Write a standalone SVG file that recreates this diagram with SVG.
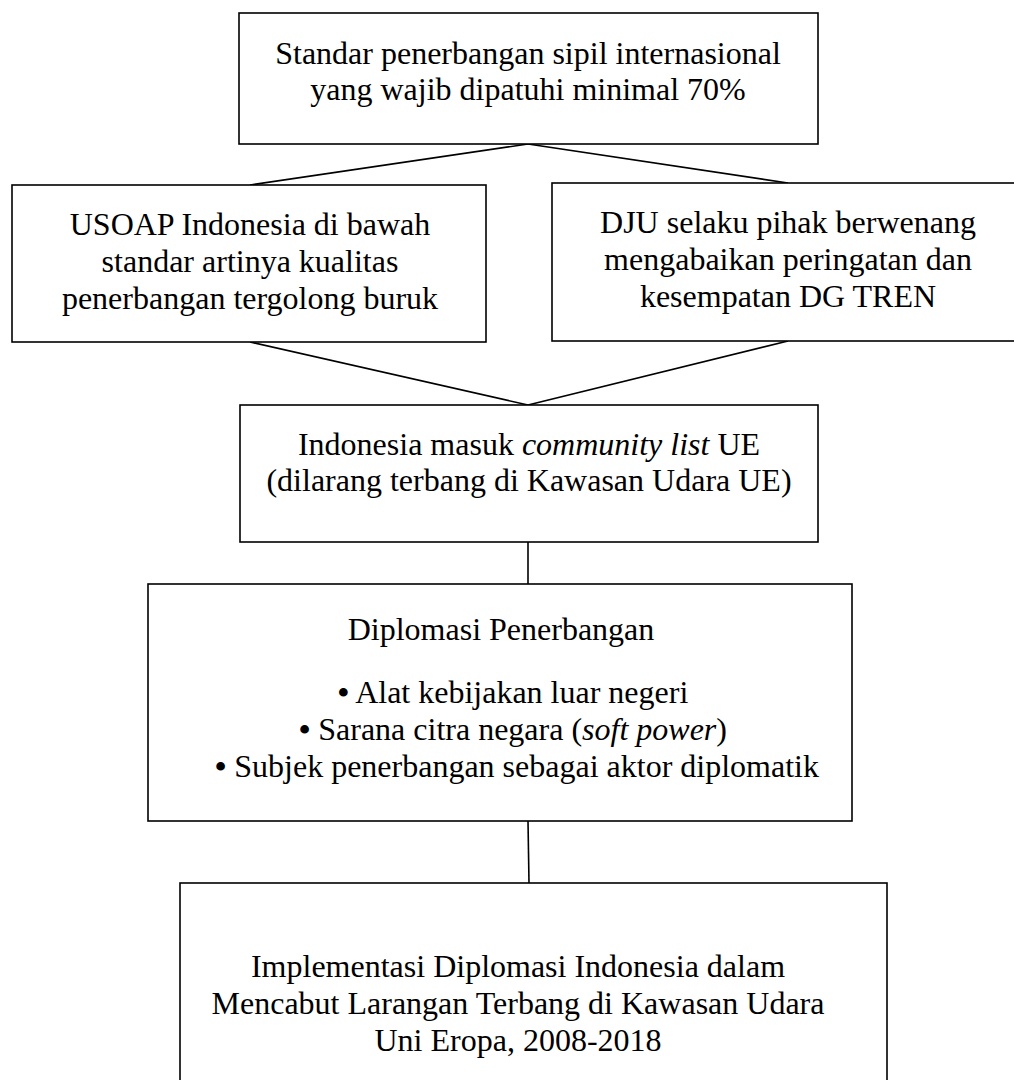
<svg xmlns="http://www.w3.org/2000/svg" width="1014" height="1080" viewBox="0 0 1014 1080">
<style>
.box{fill:#fff;stroke:#000;stroke-width:1.6}
.conn{stroke:#000;stroke-width:1.6;fill:none}
text{font-family:"Liberation Serif","Times New Roman",serif;font-size:32px;fill:#000;text-anchor:middle}
.i{font-style:italic}
.b{font-weight:bold}
</style>
<rect width="1014" height="1080" fill="#fff"/>
<g id="connectors">
<line class="conn" x1="528" y1="144" x2="250" y2="185"/>
<line class="conn" x1="528" y1="144" x2="788" y2="183"/>
<line class="conn" x1="250" y1="342" x2="528" y2="405"/>
<line class="conn" x1="788" y1="341" x2="528" y2="405"/>
<line class="conn" x1="528" y1="542" x2="528" y2="584"/>
<line class="conn" x1="528" y1="821" x2="529" y2="883"/>
</g>
<g id="n1">
<rect class="box" x="239" y="13" width="579" height="131"/>
<text x="528" y="64">Standar penerbangan sipil internasional</text>
<text x="528" y="100">yang wajib dipatuhi minimal 70%</text>
</g>
<g id="n2">
<rect class="box" x="12" y="185" width="474" height="157"/>
<text x="250" y="235">USOAP Indonesia di bawah</text>
<text x="250" y="272">standar artinya kualitas</text>
<text x="250" y="309">penerbangan tergolong buruk</text>
</g>
<g id="n3">
<rect class="box" x="552" y="183" width="472" height="158"/>
<text x="788" y="233">DJU selaku pihak berwenang</text>
<text x="788" y="270">mengabaikan peringatan dan</text>
<text x="788" y="307">kesempatan DG TREN</text>
</g>
<g id="n4">
<rect class="box" x="240" y="405" width="578" height="137"/>
<text x="529" y="455">Indonesia masuk <tspan class="i">community list</tspan> UE</text>
<text x="529" y="491">(dilarang terbang di Kawasan Udara UE)</text>
</g>
<g id="n5">
<rect class="box" x="148" y="584" width="704" height="237"/>
<text x="501" y="640">Diplomasi Penerbangan</text>
<text x="513" y="703"><tspan class="b">•</tspan> Alat kebijakan luar negeri</text>
<text x="513" y="740"><tspan class="b">•</tspan> Sarana citra negara (<tspan class="i">soft power</tspan>)</text>
<text x="517" y="777"><tspan class="b">•</tspan> Subjek penerbangan sebagai aktor diplomatik</text>
</g>
<g id="n6">
<rect class="box" x="180" y="883" width="707" height="210"/>
<text x="518" y="977">Implementasi Diplomasi Indonesia dalam</text>
<text x="518" y="1014">Mencabut Larangan Terbang di Kawasan Udara</text>
<text x="518" y="1051">Uni Eropa, 2008-2018</text>
</g>
</svg>
